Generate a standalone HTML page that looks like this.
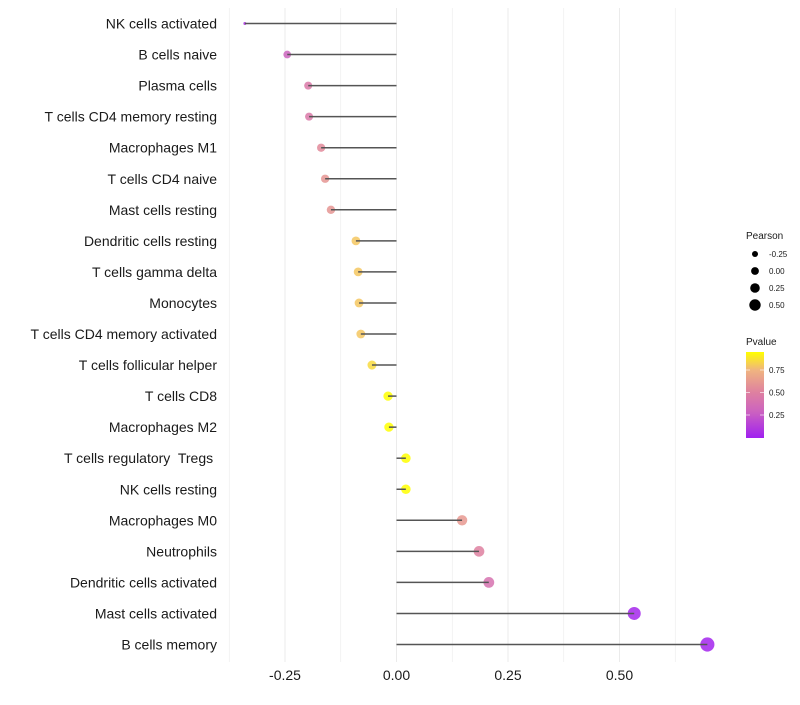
<!DOCTYPE html>
<html><head><meta charset="utf-8"><style>
body{margin:0;background:#fff;font-family:"Liberation Sans",Arial,sans-serif}
svg text{font-family:"Liberation Sans",Arial,sans-serif;white-space:pre}
</style></head><body>
<svg id="chart" width="800" height="700" xmlns="http://www.w3.org/2000/svg">
<g id="grid"></g>
<g id="ylabels"></g>
<g id="marks"></g>
<g id="xlabels"></g>
<g id="legend"></g>
</svg>
<script>
const categories=["NK cells activated","B cells naive","Plasma cells","T cells CD4 memory resting","Macrophages M1","T cells CD4 naive","Mast cells resting","Dendritic cells resting","T cells gamma delta","Monocytes","T cells CD4 memory activated","T cells follicular helper","T cells CD8","Macrophages M2","T cells regulatory  Tregs ","NK cells resting","Macrophages M0","Neutrophils","Dendritic cells activated","Mast cells activated","B cells memory"];
const pearson=[-0.34,-0.245,-0.198,-0.196,-0.169,-0.16,-0.147,-0.091,-0.086,-0.084,-0.08,-0.055,-0.019,-0.017,0.021,0.021,0.147,0.185,0.207,0.533,0.697];
const pvalue=[0.08,0.3,0.45,0.45,0.55,0.6,0.6,0.8,0.8,0.8,0.8,0.85,0.95,0.95,0.95,0.95,0.62,0.5,0.4,0.03,0.02];
const xTicks=[-0.25,0,0.25,0.5];
const xTickLabels=["-0.25","0.00","0.25","0.50"];
const sizeBreaks=[-0.25,0,0.25,0.5];
const sizeLabels=["-0.25","0.00","0.25","0.50"];
const colorBreaks=[0.25,0.5,0.75];
const colorLabels=["0.25","0.50","0.75"];

const NS="http://www.w3.org/2000/svg";
const X=v=>396.5+v*446;
const Y=i=>23.5+i*31.05;
const R=v=>v<-0.3?Math.max(1.5,3.7+(v+0.3)*55):4.7+3.4*v;
function lerp(a,b,t){return a.map((x,i)=>Math.round(x+(b[i]-x)*t));}
const stops=[[0,[160,32,240]],[0.3,[205,100,190]],[0.5,[222,128,160]],[0.75,[240,180,128]],[0.95,[255,255,0]]];
function col(p){p=Math.max(0,Math.min(0.95,p));for(let i=0;i<stops.length-1;i++){if(p<=stops[i+1][0]){const t=(p-stops[i][0])/(stops[i+1][0]-stops[i][0]);const c=lerp(stops[i][1],stops[i+1][1],t);return `rgb(${c})`;}}return "rgb(255,255,0)";}
function el(tag,attrs,parent,txt){const e=document.createElementNS(NS,tag);for(const k in attrs)e.setAttribute(k,attrs[k]);if(txt!==undefined)e.textContent=txt;parent.appendChild(e);return e;}
const grid=document.getElementById('grid'),yl=document.getElementById('ylabels'),mk=document.getElementById('marks'),xl=document.getElementById('xlabels'),lg=document.getElementById('legend');
for(let v=-0.375;v<=0.626;v+=0.125){const g=el('line',{x1:X(v),x2:X(v),y1:8,y2:662,stroke:'#ebebeb','stroke-width':Math.abs((v*8)%2)<0.01?1:0.6},grid);

}
categories.forEach((c,i)=>{
const t=el('text',{x:217,y:Y(i)+5,'text-anchor':'end','font-size':14,fill:'#1a1a1a'},yl,c);


const dot=el('circle',{cx:X(pearson[i]),cy:Y(i),r:R(pearson[i]),fill:col(pvalue[i]),'fill-opacity':0.85},mk);


const seg=el('line',{x1:X(pearson[i]),x2:X(0),y1:Y(i),y2:Y(i),stroke:'#555','stroke-width':1.5},mk);


});
xTicks.forEach((v,i)=>{const t=el('text',{x:X(v),y:680,'text-anchor':'middle','font-size':14,fill:'#1a1a1a'},xl,xTickLabels[i]);

});
const lt=el('text',{x:746,y:239,'font-size':10,fill:'#1a1a1a'},lg,'Pearson');


sizeBreaks.forEach((v,i)=>{const yy=254+i*17;
const c=el('circle',{cx:755,cy:yy,r:3+i*0.9,fill:'#000'},lg);


const t=el('text',{x:769,y:yy+3,'font-size':8,fill:'#1a1a1a'},lg,sizeLabels[i]);

});
const pt=el('text',{x:746,y:345,'font-size':10,fill:'#1a1a1a'},lg,'Pvalue');


const defs=el('defs',{},lg);const gr=el('linearGradient',{id:'pg',x1:0,y1:1,x2:0,y2:0},defs);
for(let p=0;p<=0.951;p+=0.05){el('stop',{offset:p/0.95,'stop-color':col(p)},gr);}
const bar=el('rect',{x:746,y:352,width:18,height:86,fill:'url(#pg)'},lg);


colorBreaks.forEach((v,i)=>{const yy=437.5-v*90;
el('line',{x1:746,x2:750,y1:yy,y2:yy,stroke:'#fff','stroke-opacity':0.6},lg);
el('line',{x1:760,x2:764,y1:yy,y2:yy,stroke:'#fff','stroke-opacity':0.6},lg);
const t=el('text',{x:769,y:yy+3,'font-size':8,fill:'#1a1a1a'},lg,colorLabels[i]);

});
</script>
</body></html>
